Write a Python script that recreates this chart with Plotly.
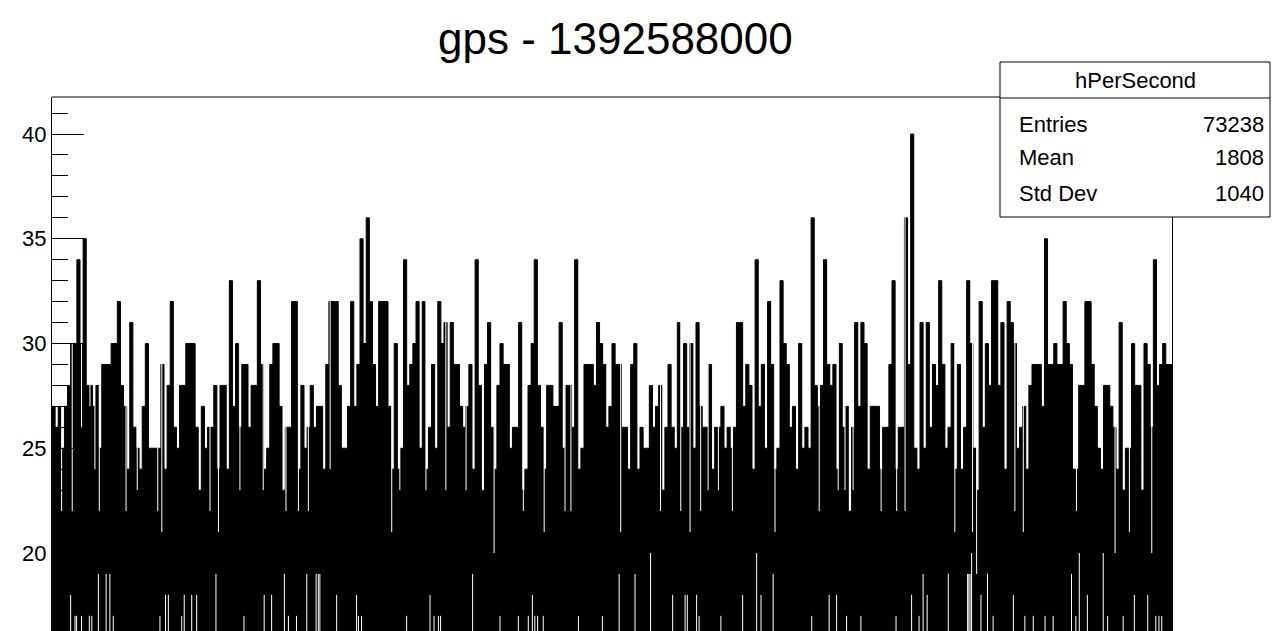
import plotly.graph_objects as go

title_text = "gps - 1392588000"
stat_name = "hPerSecond"
stat_labels = ["Entries", "Mean", "Std Dev"]
stat_values = ["73238", "1808", "1040"]

bin_width = 10  # seconds per displayed column
hi = [27,26,27,25,27,28,30,30,34,30,35,28,28,27,28,25,29,29,29,30,30,32,28,27,24,31,26,25,
      24,27,30,25,25,25,25,29,24,28,32,26,25,28,28,30,30,30,26,23,27,25,26,26,28,24,28,28,24,33,27,
      30,26,29,29,26,28,28,33,29,24,25,29,30,30,27,23,26,26,32,32,24,28,25,26,28,26,27,27,24,29,
      32,32,32,28,25,25,27,32,27,29,35,30,36,32,29,27,32,32,32,27,24,30,24,25,34,28,29,30,32,25,32,
      24,26,29,25,32,30,31,26,31,29,29,27,26,27,29,24,34,28,23,29,31,26,24,28,30,29,29,25,26,26,
      31,23,24,28,30,34,28,26,24,28,28,27,27,31,25,28,28,26,34,24,25,29,29,29,28,31,30,29,26,27,30,
      29,29,26,26,24,29,30,24,26,25,25,28,26,27,28,23,26,29,26,25,31,26,30,26,30,25,31,27,26,26,
      29,24,26,26,27,25,26,25,26,31,31,27,29,28,24,34,27,29,25,32,29,24,25,33,30,29,26,27,24,30,25,
      26,25,36,28,27,28,34,29,28,29,24,30,26,27,22,26,31,27,31,30,24,27,27,27,24,26,26,29,33,24,26,
      26,36,29,40,25,24,31,25,31,26,29,28,33,29,25,26,30,24,29,24,26,33,30,25,23,32,26,30,28,33,
      33,28,31,24,32,31,30,25,26,27,24,28,29,29,29,27,35,29,29,30,29,29,32,30,29,24,24,28,28,32,32,
      29,27,25,24,28,28,27,26,24,31,23,25,25,30,28,28,23,30,29,26,34,28,29,30,29,29]

# single low bins inside the dense band (thin white dips from the top)
dip_sec = [31,65,95,122,138,152,238,274,340,353,508,535,604,679,743,752,792,824,
           894,1092,1118,1202,1266,1331,1385,1421,1515,1582,1649,1668,
           1828,1956,2021,2051,2085,2109,2142,2187,2324,
           2466,2527,2549,2563,2575,2665,2715,2742,2902,2959,2972,
           3095,3122,3293,3417,3463,3535]
dip_lvl = [22,22,26,27,24,22,22,23,22,21,22,21,23,23,23,22,22,22,
           24,21,23,23,23,23,23,20,22,21,22,22,
           21,22,22,21,22,23,23,22,21,
           22,23,23,22,23,22,22,22,21,21,19,
           22,21,22,20,21,20]

# seconds where the lowest bin of a column stays high (white stripes at the bottom)
stripe_sec = [60,74,79,95,120,128,149,174,186,197,
              347,365,374,417,425,449,465,527,
              617,682,706,747,760,786,819,849,856,861,
              915,979,985,995,1140,
              1215,1228,1242,1249,1352,1440,1499,
              1531,1544,1552,1561,1579,1692,1769,
              1823,1874,1924,1995,2035,2042,2072,2080,
              2150,2220,2265,2279,2318,
              2442,2498,2522,2554,2600,2713,
              2763,2787,2800,2813,2881,2943,2947,2951,2956,2986,3007,3025,
              3090,3127,3154,3192,3218,3277,3291,3302,3328,
              3379,3393,3443,3479,3522,3548,3558,3567]
stripe_lvl = [18,17,17,17,17,17,19,19,19,17,
              17,18,18,17,18,18,18,19,
              17,18,18,19,17,17,19,19,19,19,
              18,18,17,17,17,
              18,17,17,17,19,17,17,
              17,18,17,17,17,17,17,
              19,19,20,18,18,18,18,17,
              17,18,20,18,19,
              17,18,18,17,17,17,
              18,17,19,18,19,19,19,19,20,18,19,17,
              18,17,17,17,17,19,17,20,18,
              20,17,17,18,18,17,17,17]

edges = [i * bin_width for i in range(len(hi) + 1)]
x_max = edges[-1]

FONT = "Liberation Sans, Arial, Helvetica, sans-serif"

# page has an 8px body margin; target pixel positions are in window coordinates
OFF = 8
W, H = 1286 - OFF, 631 - OFF
L, R, T, B = 52 - OFF, 1172 - OFF, 97 - OFF, 631 - OFF
def px(x): return (x - OFF - L) / (R - L)
def py(y): return (B - (y - OFF)) / (B - T)

y_top = 40 + (134 - 97) / 20.95
y_bot = 40 - (631 - 134) / 20.95

fig = go.Figure()
fig.add_trace(go.Scatter(
    x=edges, y=hi + [hi[-1]], mode="lines",
    line=dict(shape="hv", width=1, color="black"),
    fill="tozeroy", fillcolor="black", hoverinfo="skip", showlegend=False))

dx, dy = [], []
for s, l in zip(dip_sec, dip_lvl):
    dx += [s, s, None]
    dy += [l, 50, None]
fig.add_trace(go.Scatter(x=dx, y=dy, mode="lines",
                         line=dict(width=1, color="white"),
                         hoverinfo="skip", showlegend=False))

sx, sy = [], []
for s, l in zip(stripe_sec, stripe_lvl):
    sx += [s, s, None]
    sy += [0, l, None]
fig.add_trace(go.Scatter(x=sx, y=sy, mode="lines",
                         line=dict(width=1, color="white"),
                         hoverinfo="skip", showlegend=False))

shapes = [
    dict(type="line", xref="paper", yref="paper", x0=0, x1=1, y0=1, y1=1,
         line=dict(color="black", width=1)),
    dict(type="rect", xref="paper", yref="paper", x0=px(1000), x1=px(1270),
         y0=py(217), y1=py(62), fillcolor="white", line=dict(color="black", width=1),
         layer="above"),
    dict(type="line", xref="paper", yref="paper", x0=px(1000), x1=px(1270),
         y0=py(98), y1=py(98), line=dict(color="black", width=1), layer="above"),
]

annotations = [
    dict(text=title_text, xref="paper", yref="paper", x=px(615), y=py(38),
         showarrow=False, font=dict(family=FONT, size=44, color="black"),
         xanchor="center", yanchor="middle"),
    dict(text=stat_name, xref="paper", yref="paper", x=px(1135), y=py(80),
         showarrow=False, font=dict(family=FONT, size=22, color="black"),
         xanchor="center", yanchor="middle"),
]
for k, (lab, val) in enumerate(zip(stat_labels, stat_values)):
    yy = [124, 158, 193][k]
    annotations.append(dict(text=lab, xref="paper", yref="paper", x=px(1017), y=py(yy),
                            showarrow=False, font=dict(family=FONT, size=22, color="black"),
                            xanchor="left", yanchor="middle"))
    annotations.append(dict(text=val, xref="paper", yref="paper", x=px(1266), y=py(yy),
                            showarrow=False, font=dict(family=FONT, size=22, color="black"),
                            xanchor="right", yanchor="middle"))

fig.update_layout(
    width=W, height=H,
    margin=dict(l=L, r=W - R, t=T, b=H - B, pad=0),
    paper_bgcolor="white", plot_bgcolor="white",
    showlegend=False,
    xaxis=dict(range=[0, x_max], showgrid=False, zeroline=False, showline=False,
               showticklabels=False, ticks=""),
    yaxis=dict(range=[y_bot, y_top], showgrid=False, zeroline=False,
               showline=True, mirror=True, linecolor="black", linewidth=1,
               tickmode="linear", tick0=0, dtick=5, ticks="inside", ticklen=32,
               tickcolor="black", tickwidth=1,
               minor=dict(ticks="inside", ticklen=16, dtick=1, tickcolor="black", tickwidth=1),
               tickfont=dict(family=FONT, size=22, color="black")),
    shapes=shapes, annotations=annotations,
)

fig.write_html("out.html")
